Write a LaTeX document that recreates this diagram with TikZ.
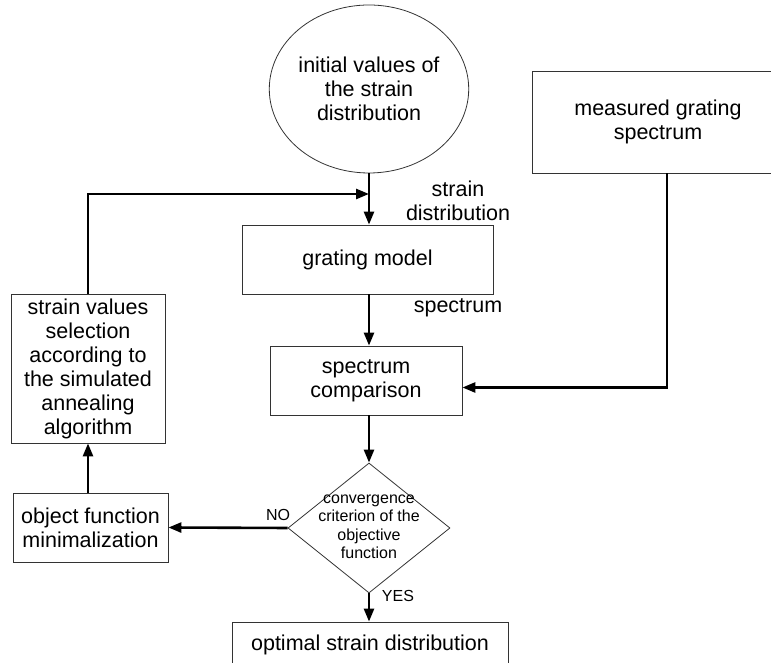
\documentclass[tikz,border=0pt]{standalone}
\usepackage{fontspec}
\setmainfont{Liberation Sans}
\usepackage{tikz}
\usetikzlibrary{shapes, arrows.meta, positioning}
\newcommand{\Lrg}{\fontsize{21.5}{24}\selectfont}
\newcommand{\Sml}{\fontsize{16}{18.5}\selectfont}

\begin{document}
\begin{tikzpicture}[x=1pt, y=1pt,
    box/.style={draw=black!80, line width=0.8pt, rectangle, align=center, inner sep=0pt, font=\Lrg},
    flow/.style={line width=2.6pt, -{Triangle[length=13pt, width=10pt]}},
    lbl/.style={align=center, font=\Lrg}]
        \useasboundingbox (0,0) rectangle (771,663);
        % Nodos
        \node[box, ellipse, minimum width=186, minimum height=168] (init) at (369,574)
            {initial values of\\the strain\\distribution};
        \node[box, minimum width=252, minimum height=102] (measured) at (658,541)
            {measured grating\\spectrum};
        \node[box, minimum width=251, minimum height=69] (model) at (367.5,403.5) {grating model};
        \node[box, minimum width=192, minimum height=69] (compare) at (366,282.5)
            {spectrum\\comparison};
        \node[box, minimum width=154, minimum height=149] (select) at (88,294.5)
            {strain values\\selection\\according to\\the simulated\\annealing\\algorithm};
        \node[box, minimum width=155, minimum height=69] (minim) at (90.5,135.5)
            {object function\\minimalization};
        % Rombo
        \node[draw=black!80, line width=0.8pt, diamond, inner sep=0pt, minimum width=162, minimum height=130] (check) at (369,135) {};
        \node[align=center, font=\Sml] (checktext) at (369,136)
            {convergence\\criterion of the\\objective\\function};
        \node[box, minimum width=276, minimum height=46] (optimal) at (370,18) {optimal strain distribution};
        % Etiquetas
        \node[lbl] (strainlbl) at (458,462) {strain\\distribution};
        \node[lbl] (speclbl) at (458,355) {spectrum};
        \node[font=\Sml] (nolbl) at (278,148) {NO};
        \node[font=\Sml] (yeslbl) at (398,67) {YES};
        \coordinate (join) at (369,469);

        % Flechas
        \draw[flow] (init.south) -- (init.south |- model.north);
        \draw[flow] (select.north) |- (join);
        \draw[flow] (join |- model.south) -- (join |- compare.north);
        \draw[flow] ([xshift=9pt]measured.south) |- ([yshift=-7pt]compare.east);
        \draw[flow] (join |- compare.south) -- (check.north);
        \draw[flow] (check.west) -- (minim.east);
        \draw[flow] (minim.north -| select.south) -- (select.south);
        \draw[flow] (check.south) -- (check.south |- optimal.north);
    \end{tikzpicture}
\end{document}
